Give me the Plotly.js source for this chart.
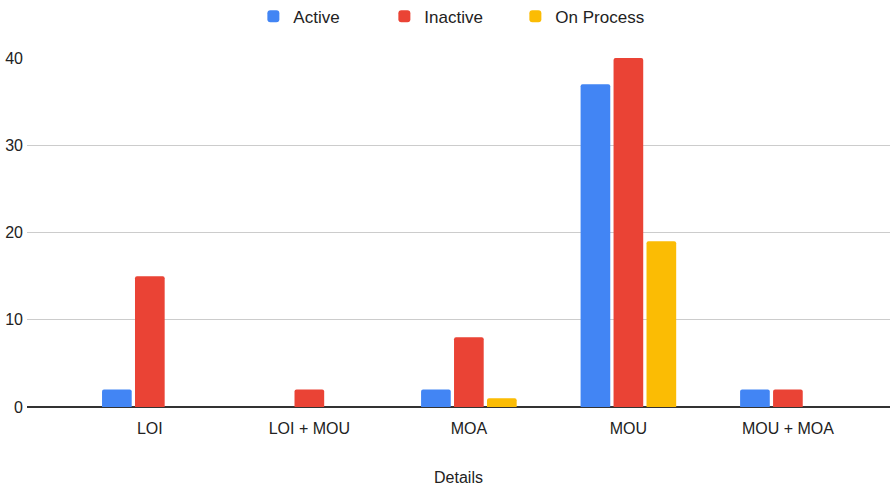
<!DOCTYPE html>
<html><head><meta charset="utf-8">
<script src="https://cdn.plot.ly/plotly-3.0.1.min.js"></script>
<style>html,body{margin:0;padding:0;background:#fff}</style>
</head><body><div id="chart" style="width:890px;height:493px"></div>
<script>
const categories = ["LOI", "LOI + MOU", "MOA", "MOU", "MOU + MOA"];
const active = [2, 0, 2, 37, 2];
const inactive = [15, 2, 8, 40, 2];
const onProcess = [0, 0, 1, 19, 0];
const seriesNames = ["Active", "Inactive", "On Process"];
const colors = ["#4285F4", "#EA4335", "#FBBC04"];
const yTicks = [0, 10, 20, 30, 40];

const font = {family: "Liberation Sans, Arial, sans-serif", size: 16, color: "#222"};
const traces = [active, inactive, onProcess].map((v, i) => ({
  type: "bar", x: categories, y: v, name: seriesNames[i],
  marker: {color: colors[i]}, hoverinfo: "none"
}));
const layout = {
  width: 890, height: 493,
  margin: {l: 27, r: 0, t: 58, b: 86, autoexpand: false},
  font: font,
  paper_bgcolor: "#fff", plot_bgcolor: "#fff",
  barmode: "group", bargap: 0.38, bargroupgap: 0.1, barcornerradius: 2,
  showlegend: true,
  legend: {orientation: "h", x: 0.49, xanchor: "center", y: 1.118, yanchor: "middle",
           font: {family: font.family, size: 17, color: "#222"}, itemwidth: 30,
           entrywidth: 86, entrywidthmode: "pixels", traceorder: "normal"},
  xaxis: {type: "category", range: [-0.77, 4.64], showgrid: false, ticks: "", showline: false,
          zeroline: false, tickfont: {size: 16, color: "#222"}, ticklabelstandoff: 10,
          title: {text: "Details", font: {size: 16, color: "#222"}, standoff: 35}},
  yaxis: {range: [0, 40], tickvals: yTicks, ticktext: yTicks.map(String),
          showgrid: true, gridcolor: "#ccc", gridwidth: 1,
          zeroline: true, zerolinecolor: "#333", zerolinewidth: 2,
          tickfont: {size: 16, color: "#222"}, ticks: "", ticklabelstandoff: 3, fixedrange: true}
};
Plotly.newPlot("chart", traces, layout, {displayModeBar: false, staticPlot: true});
</script></body></html>
